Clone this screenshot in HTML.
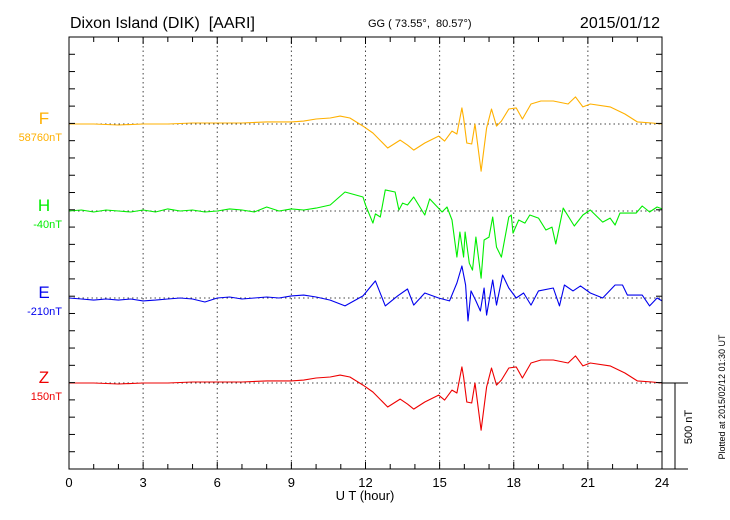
<!DOCTYPE html>
<html><head><meta charset="utf-8"><style>
body{margin:0;background:#fff;}
svg{display:block;font-family:"Liberation Sans",sans-serif;}
</style></head><body>
<svg id="chart" width="730" height="520" viewBox="0 0 730 520">
<text x="70" y="28" font-size="16">Dixon Island (DIK)&#160; [AARI]</text>
<text x="368" y="27" font-size="11">GG ( 73.55°,&#160; 80.57°)</text>
<text x="660" y="28" font-size="16" text-anchor="end">2015/01/12</text>
<text x="365" y="500" font-size="13" text-anchor="middle">U T (hour)</text>
<text transform="translate(725,397) rotate(-90)" font-size="9" text-anchor="middle">Plotted at 2015/02/12 01:30 UT</text>
<text transform="translate(692,427) rotate(-90)" font-size="11" text-anchor="middle">500 nT</text>
<g id="grid"></g>
<g id="series"></g>
<g id="axes"></g>
</svg>
<script>
const xTickLabels=["0","3","6","9","12","15","18","21","24"];
const seriesNames=["F","H","E","Z"];
const seriesBaseLabels=["58760nT","-40nT","-210nT","150nT"];
const zTimes=[0,1,2,3,4,5,6,7,8,9,9.5,10,10.57,10.97,11.37,11.9,12.3,12.9,13.4,13.7,13.95,14.4,14.96,15.2,15.5,15.7,15.9,15.97,16.1,16.3,16.43,16.68,16.9,17.1,17.3,17.5,17.8,18.1,18.35,18.7,19.1,19.6,20.2,20.5,20.8,21.1,21.9,22.5,23.0,23.6,24];
const zValues=[0,0,-6,0,0,6,6,6,12,12,17,29,35,46,35,-12,-52,-139,-93,-122,-151,-110,-70,-99,-41,-58,93,35,-110,-116,0,-273,-23,87,-12,17,87,93,29,116,133,133,116,157,99,116,99,58,12,6,0];
const fTimes=[0,1,2,3,4,5,6,7,8,9,9.5,10,10.57,10.97,11.37,11.9,12.3,12.9,13.4,13.7,13.95,14.4,14.96,15.2,15.5,15.7,15.9,15.97,16.1,16.3,16.43,16.68,16.9,17.1,17.3,17.5,17.8,18.1,18.35,18.7,19.1,19.6,20.2,20.5,20.8,21.1,21.9,22.5,23.0,23.6,24];
const fValues=[0,0,-6,0,0,6,6,6,12,12,17,29,35,46,35,-12,-52,-139,-93,-122,-151,-110,-70,-99,-41,-58,93,35,-110,-116,0,-273,-23,87,-12,17,87,93,29,116,133,133,116,157,99,116,99,58,12,6,0];
const hTimes=[0,0.5,1,1.5,2,2.5,3,3.5,4,4.5,5,5.5,6,6.5,7,7.5,8,8.5,9,9.5,10,10.57,11.17,11.9,12.0,12.3,12.4,12.6,12.8,13.2,13.35,13.5,13.7,13.95,14.4,14.6,15.1,15.3,15.5,15.7,15.82,15.97,16.03,16.2,16.33,16.47,16.68,16.8,17.0,17.15,17.3,17.5,17.8,17.9,17.97,18.2,18.45,18.65,19.0,19.3,19.55,19.7,20.0,20.45,20.8,21.1,21.6,21.9,22.1,22.3,22.95,23.2,23.5,23.8,24];
const hValues=[0,6,-6,6,0,-6,6,-6,12,0,6,-6,0,12,6,-6,23,0,12,6,17,35,110,81,35,-70,-17,-35,122,110,6,46,35,81,-23,70,-6,23,-52,-267,-122,-267,-122,-302,-342,-151,-389,-168,-151,-35,-209,-267,-35,-23,-128,-52,-70,-23,-41,-110,-93,-191,17,-87,-23,6,-64,-41,-81,-12,-12,29,-6,23,12];
const eTimes=[0,0.5,1,1.5,2,2.5,3,3.5,4,4.5,5,5.5,6,6.5,7,7.5,8,8.5,9,9.5,10,10.57,11.17,11.9,12.4,12.8,13.3,13.7,13.95,14.4,14.96,15.4,15.7,15.9,16.05,16.15,16.27,16.47,16.65,16.8,16.9,17.15,17.3,17.55,17.8,18.1,18.4,18.7,19.0,19.6,19.85,20.05,20.4,20.7,21.1,21.6,22.1,22.4,22.6,23.2,23.5,23.8,24];
const eValues=[0,-6,-12,-6,-12,-6,-17,-12,-6,0,-6,-23,0,6,-6,0,6,0,12,17,6,-12,-46,12,99,-46,12,52,-41,29,0,-17,87,185,75,-133,41,-17,-75,58,-99,104,-41,133,58,0,29,-41,41,58,-46,75,41,70,29,0,75,75,17,17,-46,0,-17];

const NS="http://www.w3.org/2000/svg";
const L=69,R=662,T=37,B=469;
const baselines=[124,211,298,383];
const colors=["#ffb000","#00ee00","#0000ee","#ee0000"];
const pxPerNT=86.4/500;
function xScale(h){return L+h*(R-L)/24;}
function yScale(base,v){return base-v*pxPerNT;}
function mk(tag,attrs,parent){const e=document.createElementNS(NS,tag);for(const k in attrs)e.setAttribute(k,attrs[k]);parent.appendChild(e);return e;}
const grid=document.getElementById('grid'),axes=document.getElementById('axes'),ser=document.getElementById('series');
for(let h=3;h<24;h+=3){
  const l=mk('line',{x1:xScale(h),x2:xScale(h),y1:T,y2:B,stroke:'#444','stroke-width':1,'stroke-dasharray':'1.5,3'},grid);
  
  
}
baselines.forEach(b=>{
  const l=mk('line',{x1:L,x2:R,y1:b,y2:b,stroke:'#444','stroke-width':1,'stroke-dasharray':'1.5,3'},grid);
  
  
});
const frame=mk('rect',{x:L,y:T,width:R-L,height:B-T,fill:'none',stroke:'#000','stroke-width':1},axes);


for(let h=0;h<=24;h++){
  const len=h%3===0?7:5;
  mk('line',{x1:xScale(h),x2:xScale(h),y1:B,y2:B-len,stroke:'#000'},axes);
  mk('line',{x1:xScale(h),x2:xScale(h),y1:T,y2:T+len,stroke:'#000'},axes);
}
for(let i=1;i<25;i++){
  const y=T+i*(B-T)/25;
  mk('line',{x1:L,x2:L+6,y1:y,y2:y,stroke:'#000'},axes);
  mk('line',{x1:R,x2:R-6,y1:y,y2:y,stroke:'#000'},axes);
}
xTickLabels.forEach((t,i)=>{
  const e=mk('text',{x:xScale(i*3),y:487,'font-size':13,'text-anchor':'middle'},axes);
  e.textContent=t;
  
  
});
mk('line',{x1:R,x2:688,y1:383,y2:383,stroke:'#000'},axes);
mk('line',{x1:R,x2:688,y1:B,y2:B,stroke:'#000'},axes);
const sb=mk('line',{x1:675,x2:675,y1:383,y2:B,stroke:'#000'},axes);


const allT=[fTimes,hTimes,eTimes,zTimes],allV=[fValues,hValues,eValues,zValues];
seriesNames.forEach((n,i)=>{
  const b=baselines[i];
  const d=allT[i].map((t,j)=>(j?'L':'M')+xScale(t).toFixed(1)+','+yScale(b,allV[i][j]).toFixed(1)).join('');
  const p=mk('path',{d:d,fill:'none',stroke:colors[i],'stroke-width':1.1,'stroke-linejoin':'round'},ser);
  
  
  const lab=mk('text',{x:44,y:b,'font-size':17,'text-anchor':'middle',fill:colors[i]},axes);
  lab.textContent=n;
  
  
  const bl=mk('text',{x:62,y:b+17,'font-size':11,'text-anchor':'end',fill:colors[i]},axes);
  bl.textContent=seriesBaseLabels[i];
  
  
});
</script>
</body></html>
